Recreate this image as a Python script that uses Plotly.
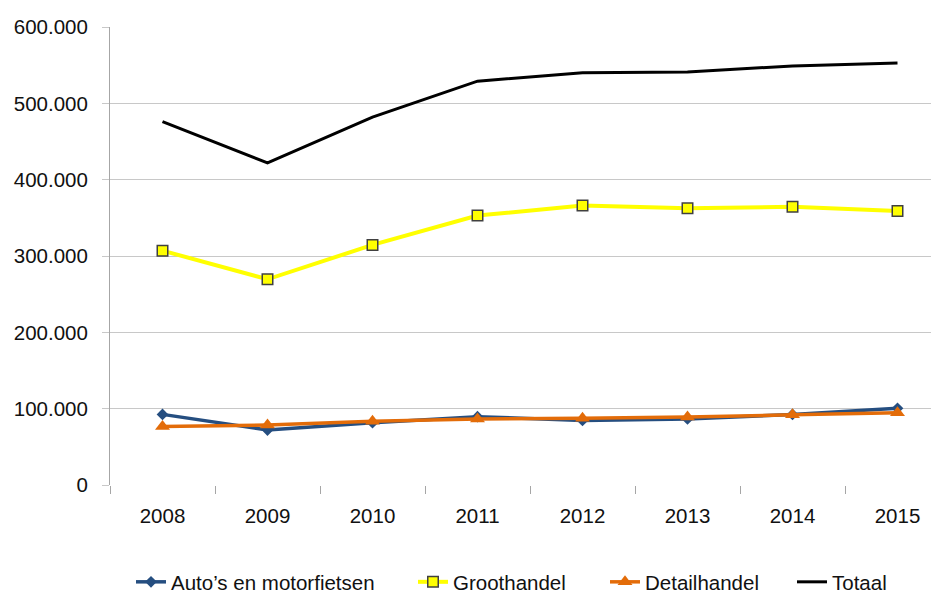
import plotly.graph_objects as go

years = ["2008", "2009", "2010", "2011", "2012", "2013", "2014", "2015"]
auto = [92500, 72000, 81700, 89500, 84500, 86500, 92500, 100500]
groothandel = [307000, 269500, 314500, 353000, 366000, 362500, 364500, 359000]
detailhandel = [76500, 78500, 83500, 86500, 87500, 89000, 92000, 94500]
totaal = [476000, 422000, 482000, 529000, 540000, 541000, 549000, 553000]

y_tickvals = [0, 100000, 200000, 300000, 400000, 500000, 600000]
y_ticktext = ["0", "100.000", "200.000", "300.000", "400.000", "500.000", "600.000"]

FONT = "Liberation Sans, Arial, sans-serif"
FS = 20.5
OFF = 8  # page body margin
W, H = 939 - OFF, 594 - OFF
ML, MT = 110 - OFF, 27 - OFF
plot_bottom = 485 - OFF
MB = H - plot_bottom
plot_w = W - ML
plot_h = H - MT - MB
cat_px = 105.0

fig = go.Figure()
fig.add_trace(go.Scatter(
    x=years, y=auto, name="Auto’s en motorfietsen", mode="lines+markers",
    line=dict(color="#254E80", width=3.5),
    marker=dict(symbol="diamond", size=9, color="#254E80"),
    legend="legend"))
fig.add_trace(go.Scatter(
    x=years, y=groothandel, name="Groothandel", mode="lines+markers",
    line=dict(color="#FFFF00", width=4),
    marker=dict(symbol="square", size=10.5, color="#FFFF00",
                line=dict(color="#404040", width=1.5)),
    legend="legend2"))
fig.add_trace(go.Scatter(
    x=years, y=detailhandel, name="Detailhandel", mode="lines+markers",
    line=dict(color="#E36C09", width=3.5),
    marker=dict(symbol="triangle-up", size=13, color="#E36C09"),
    legend="legend3"))
fig.add_trace(go.Scatter(
    x=years, y=totaal, name="Totaal", mode="lines",
    line=dict(color="#000000", width=3),
    legend="legend4"))

def lx(px_page):
    return (px_page - OFF - 41 - ML) / plot_w

leg_y = -((582 - OFF) - plot_bottom) / plot_h
leg_common = dict(orientation="h", yanchor="middle", y=leg_y, xanchor="left",
                  font=dict(family=FONT, size=FS, color="#111111"),
                  bgcolor="rgba(0,0,0,0)", itemwidth=30)

x_end = -0.5 + plot_w / cat_px

fig.update_layout(
    width=W, height=H,
    margin=dict(l=ML, r=0, t=MT, b=MB, autoexpand=False),
    paper_bgcolor="white", plot_bgcolor="white",
    font=dict(family=FONT, size=FS, color="#111111"),
    showlegend=True,
    legend=dict(x=lx(172), **leg_common),
    legend2=dict(x=lx(454), **leg_common),
    legend3=dict(x=lx(646), **leg_common),
    legend4=dict(x=lx(833), **leg_common),
    xaxis=dict(type="category", range=[-0.5, x_end], showgrid=False,
               ticks="outside", tickson="boundaries", ticklen=8,
               tickcolor="#A6A6A6", showline=False, zeroline=False,
               ticklabelstandoff=16, automargin=False,
               tickfont=dict(family=FONT, size=FS, color="#111111")),
    yaxis=dict(range=[0, 600000], tickvals=y_tickvals, ticktext=y_ticktext,
               showgrid=True, gridcolor="#C8C8C8", gridwidth=1,
               ticks="outside", ticklen=7, tickcolor="#C8C8C8",
               showline=True, linecolor="#A6A6A6", linewidth=1,
               zeroline=False, ticklabelstandoff=10, automargin=False,
               tickfont=dict(family=FONT, size=FS, color="#111111")),
)

fig.write_html("out.html")
